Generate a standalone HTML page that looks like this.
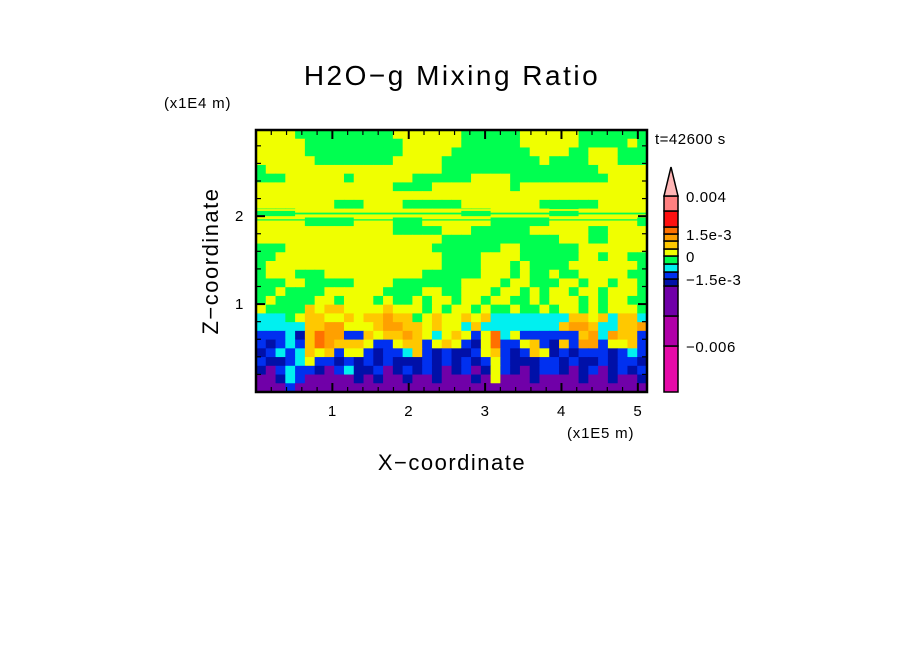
<!DOCTYPE html>
<html><head><meta charset="utf-8"><style>
body{margin:0;background:#fff;}
svg text{font-family:"Liberation Sans",sans-serif;fill:#000;}
</style></head><body>
<svg id="chart" width="904" height="654" viewBox="0 0 904 654" xmlns="http://www.w3.org/2000/svg">
<text x="452" y="85" font-size="28" text-anchor="middle" letter-spacing="2.5">H2O−g Mixing Ratio</text>
<text x="164" y="108" font-size="15" letter-spacing="0.8">(x1E4 m)</text>
<text x="655" y="144" font-size="15" letter-spacing="0.5">t=42600 s</text>
<text x="567" y="438" font-size="15" letter-spacing="0.8">(x1E5 m)</text>
<text x="452" y="470" font-size="22" text-anchor="middle" letter-spacing="1.5">X−coordinate</text>
<text x="0" y="0" font-size="22" text-anchor="middle" letter-spacing="1.5" transform="translate(218,261) rotate(-90)">Z−coordinate</text>
<g id="field"></g>
<g id="axes"></g>
<g id="cbar"></g>
</svg>
<script>
const NS="http://www.w3.org/2000/svg";
const gridRows=[
"yyyyggggggggggyyyyyyyggggggyyyyyyggggggg",
"yyyyyggggggggggyyyyyyggggggyyyyyygggggyg",
"yyyyyggggggggggyyyyyggggggggyyyyggyyyggg",
"yyyyyyggggggggyyyyyggggggggggyggggyyyggg",
"gyyyyyyyyyyyyyyyyyyggggggggggggggggyyyyy",
"gggyyyyyygyyyyyyggggggyyyyggggggggggyyyy",
"yyyyyyyyyyyyyyggggyyyyyyyygyyyyyyyyyyyyy",
"yyyyyyyyyyyyyyyyyyyyyyyyyyyyyyyyyyyyyyyy",
"yyyyyyyygggyyyyggggggyyyyyyyyggggggyyyyy",
"ggggyyyyyyyyyyyyyyyyygggyyyyyygggyyyyyyy",
"yyyyygggggyyyygggyyyyyyyggggggyyyyyyyyyg",
"yyyyyyyyyyyyyygggggyyyggggggyyyyyyggyyyy",
"yyyyyyyyyyyyyyyyyyyggggggggggggyyyggyyyy",
"gggyyyyyyyyyyyyyyygggggggyyggggggyyyyyyy",
"ggyyyyyyyyyyyyyyyyyggggyyyyggggggyygyygg",
"gyyyyyyyyyyyyyyyyyyggggyyygyggggyyyyyyyg",
"gyyygggyyyyyyyyyyggggggyyygyggyggyyyyygg",
"gggyygggggyyyygggggggyyyygyygggyygyygyyg",
"ggyggggyyyyyyggggyyggyyygyygygyygyygyyyg",
"gyggggyygyyygyggygyygyygyyggygyyygygyygg",
"yggggayaayyyyayyygygyygyggyggygyygygyyyg",
"cccgyaayyayaaoaagyayyayaccccccccaayacaac",
"cccccaaooyyyaooaayayycaccccccccaooaccaao",
"bbbcdaroobbayaaoaycyaybyrcybbbbbbaocoaab",
"bdbcbaroaaaybbyaabyaybdyrbbyabdaboobyyab",
"dbcbcayabyybdbbcabdbddbyabdbaydbdbbbdbcb",
"bddbcybbdbdbdbdddbdbdbdbybdddbbdbddbdbbd",
"dvbcbbdvbcddbvdbdbdvdbvdybdvdbbdvdbvdbdb",
"vvdcbvvvvvdvdvvdvvdvvvdvyvvvdvvvvdvvdvvd",
"vvvbvvvvvvvvvvvvvvvvvvvvvvvvvvvvvvvvvvvv"];
const levelColors={v:"#7000a8",d:"#0010a8",b:"#0030f0",c:"#00f0f0",g:"#00ff50",y:"#f0ff00",a:"#ffc800",o:"#ffa000",r:"#ff7000"};
const xTicks=[1,2,3,4,5];
const yTicks=[1,2];
const xMax=5.12, zMax=2.98;
const cbarColors=["#e60aa8","#b000a8","#7000a8","#0010a8","#0030f0","#00f0f0","#00ff50","#f0ff00","#ffc800","#ffa000","#ff7000","#ff1010","#ff8080"];
const cbarLabels=["0.004","1.5e-3","0","−1.5e-3","−0.006"];
const cbarLabelIdx=[12,9,6,3,0];

const L=256,R=647,T=130,B=392;
const sx=v=>L+v/xMax*(R-L);
const sz=v=>B-v/zMax*(B-T);
const field=document.getElementById('field');
const nr=gridRows.length,nc=gridRows[0].length;
gridRows.forEach((row,i)=>{
  for(let j=0;j<nc;j++){
    const r=document.createElementNS(NS,'rect');
    const x0=sx(j*xMax/nc),x1=sx((j+1)*xMax/nc);
    const z0=sz(zMax-i*zMax/nr),z1=sz(zMax-(i+1)*zMax/nr);
    r.setAttribute('x',x0);r.setAttribute('y',z0);
    r.setAttribute('width',x1-x0+0.5);r.setAttribute('height',z1-z0+0.5);
    r.setAttribute('fill',levelColors[row[j]]);
    
    
    field.appendChild(r);
  }
});
[[2.02,0.02,"#00ff50"],[1.985,0.015,"#f0ff00"],[1.95,0.015,"#00ff50"],[2.06,0.02,"#f0ff00"]].forEach(b=>{
  const r=document.createElementNS(NS,'rect');
  r.setAttribute('x',L);r.setAttribute('y',sz(b[0]+b[1]));r.setAttribute('width',R-L);r.setAttribute('height',sz(b[0])-sz(b[0]+b[1]));
  r.setAttribute('fill',b[2]);
  
  
  field.appendChild(r);
});
const axes=document.getElementById('axes');
function line(x1,y1,x2,y2,w,name){
  const l=document.createElementNS(NS,'line');
  l.setAttribute('x1',x1);l.setAttribute('y1',y1);l.setAttribute('x2',x2);l.setAttribute('y2',y2);
  l.setAttribute('stroke','#000');l.setAttribute('stroke-width',w);
  
  
  axes.appendChild(l);
}
function text(x,y,s,anchor,name,g){
  const t=document.createElementNS(NS,'text');
  t.setAttribute('x',x);t.setAttribute('y',y);t.setAttribute('font-size','15');t.setAttribute('text-anchor',anchor);
  t.setAttribute('letter-spacing','0.6');
  t.textContent=s;
  
  
  (g||axes).appendChild(t);
}
const fr=document.createElementNS(NS,'rect');
fr.setAttribute('x',L);fr.setAttribute('y',T);fr.setAttribute('width',R-L);fr.setAttribute('height',B-T);
fr.setAttribute('fill','none');fr.setAttribute('stroke','#000');fr.setAttribute('stroke-width','2.5');


axes.appendChild(fr);
for(let v=0.2;v<xMax;v+=0.2){
  const major=Math.abs(v-Math.round(v))<0.01;const len=major?9:5;const x=sx(v);
  line(x,B,x,B-len,major?2:1.2,'x-tick');line(x,T,x,T+len,major?2:1.2,'x-tick-top');
}
for(let v=0.2;v<zMax;v+=0.2){
  const major=Math.abs(v-Math.round(v))<0.01;const len=major?9:5;const y=sz(v);
  line(L,y,L+len,y,major?2:1.2,'y-tick');line(R,y,R-len,y,major?2:1.2,'y-tick-right');
}
xTicks.forEach(v=>text(sx(v),416,String(v),'middle','x-tick-label'));
yTicks.forEach(v=>text(244,sz(v)+5,String(v),'end','y-tick-label'));
const cb=document.getElementById('cbar');
const cbBot=392,cx=664,cw=14;
const cbHeights=[46,30,30,7,7,8,8,7,8,7,7,16,15];
let yy=cbBot;
cbarColors.forEach((c,i)=>{
  const h=cbHeights[i];yy-=h;
  const r=document.createElementNS(NS,'rect');
  r.setAttribute('x',cx);r.setAttribute('y',yy);r.setAttribute('width',cw);r.setAttribute('height',h);
  r.setAttribute('fill',c);r.setAttribute('stroke','#000');r.setAttribute('stroke-width','1.5');
  
  
  cb.appendChild(r);
  cbarLabelIdx.forEach((li,k)=>{ if(li===i) text(686,yy+6,cbarLabels[k],'start','colorbar-label',cb); });
});
const tri=document.createElementNS(NS,'polygon');
tri.setAttribute('points',`${cx},${yy} ${cx+cw},${yy} ${cx+cw/2},167`);
tri.setAttribute('fill','#ffb6b6');tri.setAttribute('stroke','#000');tri.setAttribute('stroke-width','1.5');


cb.appendChild(tri);
</script>
</body></html>
